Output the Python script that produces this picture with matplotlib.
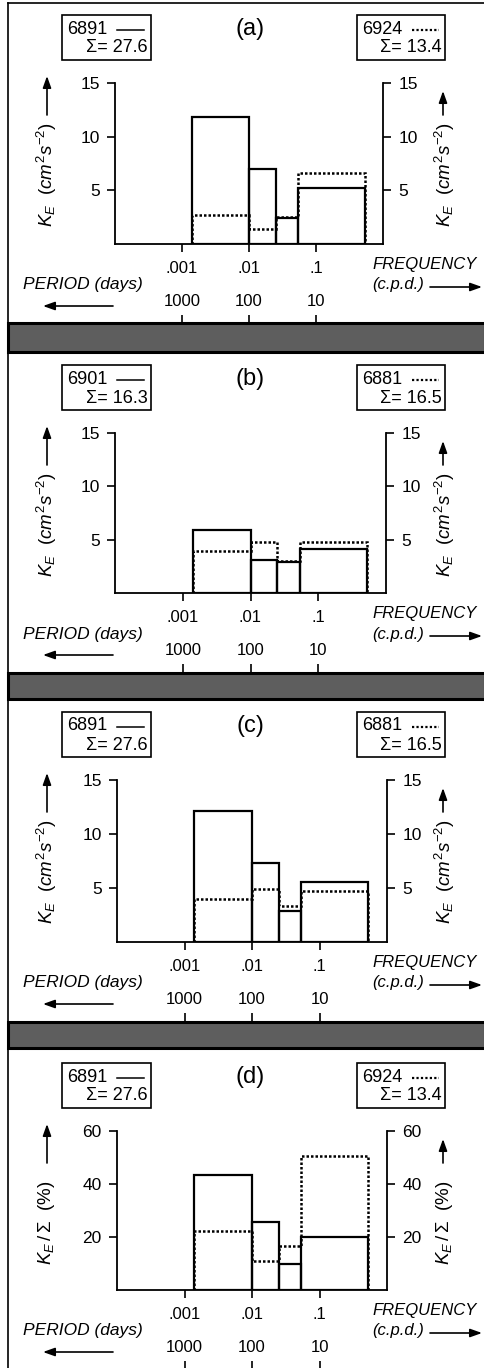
import matplotlib
matplotlib.use('Agg')
import matplotlib.pyplot as plt
from matplotlib.patches import Rectangle, FancyArrowPatch
from matplotlib.lines import Line2D
from matplotlib.ticker import NullLocator

plt.rcParams['font.family'] = ['Liberation Sans', 'DejaVu Sans']
plt.rcParams['mathtext.fontset'] = 'custom'
plt.rcParams['mathtext.it'] = 'Liberation Sans:italic'
plt.rcParams['mathtext.rm'] = 'Liberation Sans'
plt.rcParams['mathtext.sf'] = 'Liberation Sans'

W, H = 485, 1368

# frequency bands (cycles per day): ~700 d, 100 d, 40 d, 19 d, ~2 d periods
bin_edges = [0.0014, 0.01, 0.025, 0.053, 0.53]

panel_letters = ['(a)', '(b)', '(c)', '(d)']
solid_ids = ['6891', '6901', '6891', '6891']
solid_sums = ['27.6', '16.3', '27.6', '27.6']
dotted_ids = ['6924', '6881', '6881', '6924']
dotted_sums = ['13.4', '16.5', '16.5', '13.4']

# kinetic energy per band (cm^2 s^-2), panel (d) in percent of total
ke_a_6891 = [11.8, 7.0, 2.4, 5.2]
ke_a_6924 = [2.7, 1.4, 2.5, 6.6]
ke_b_6901 = [5.9, 3.1, 2.9, 4.1]
ke_b_6881 = [3.9, 4.8, 3.0, 4.8]
ke_c_6891 = [12.1, 7.3, 2.9, 5.6]
ke_c_6881 = [4.0, 4.9, 3.3, 4.7]
pct_d_6891 = [43.5, 25.8, 9.8, 20.1]
pct_d_6924 = [22.4, 11.1, 16.7, 50.6]

solid_series = [ke_a_6891, ke_b_6901, ke_c_6891, pct_d_6891]
dotted_series = [ke_a_6924, ke_b_6881, ke_c_6881, pct_d_6924]

ke_ticks = [5, 10, 15]
pct_ticks = [20, 40, 60]
freq_ticks = [0.001, 0.01, 0.1]
freq_labels = ['.001', '.01', '.1']
period_ticks = [1000, 100, 10]
period_labels = ['1000', '100', '10']

ke_label = r'$K_E\ \ (cm^2 s^{-2})$'
pct_label = r'$K_E\,/\,\Sigma\ \ (\%)$'

# axes boxes in pixels: left, top, right, bottom
rects = [(115, 83, 383, 244), (115, 433, 386, 593),
         (117, 780, 387, 942), (117, 1131, 387, 1290)]
strips = [(323, 352), (673, 699), (1022, 1048)]


def fx(x):
    return x / W


def fy(y):
    return 1 - y / H


fig = plt.figure(figsize=(W / 100, H / 100), dpi=100)

# page frame and the dark scan strips between panels
fig.add_artist(Line2D([fx(8), fx(8)], [fy(3), fy(1368)], color='black', lw=1.2))
fig.add_artist(Line2D([fx(8), fx(485)], [fy(3), fy(3)], color='black', lw=1.2))
for y0, y1 in strips:
    fig.add_artist(Rectangle((fx(8), fy(y1)), fx(485) - fx(8), (y1 - y0) / H,
                             transform=fig.transFigure, facecolor='#5e5e5e',
                             edgecolor='black', lw=2.2))


def arrow(x0, y0, x1, y1):
    fig.add_artist(FancyArrowPatch(
        (fx(x0), fy(y0)), (fx(x1), fy(y1)), transform=fig.transFigure,
        arrowstyle='-|>,head_length=7,head_width=2.5', color='black', lw=1.2,
        mutation_scale=1, shrinkA=0, shrinkB=0))


def legend_box(x0, x1, top, ident, total, dotted):
    y0, y1 = top - 68, top - 23
    fig.add_artist(Rectangle((fx(x0), fy(y1)), fx(x1) - fx(x0), (y1 - y0) / H,
                             transform=fig.transFigure, fill=False,
                             edgecolor='black', lw=1.2))
    fig.text(fx(x0 + 5), fy(y0 + 14), ident, fontsize=13, ha='left', va='center')
    ls = (0, (1, 1)) if dotted else '-'
    fig.add_artist(Line2D([fx(x0 + 55), fx(x0 + 82)], [fy(y0 + 15), fy(y0 + 15)],
                          color='black', lw=1.6 if dotted else 1.1, linestyle=ls))
    fig.text(fx(x1 - 3), fy(y0 + 33), '\u03a3= ' + total, fontsize=13,
             ha='right', va='center')


for i in range(4):
    left, top, right, bottom = rects[i]
    ax = fig.add_axes([fx(left), fy(bottom), fx(right) - fx(left), (bottom - top) / H])
    solid = solid_series[i]
    dotted = dotted_series[i]
    widths = [bin_edges[k + 1] - bin_edges[k] for k in range(len(solid))]
    ax.bar(bin_edges[:-1], solid, width=widths, align='edge', fill=False,
           edgecolor='black', linewidth=1.6, zorder=2)
    ax.stairs(dotted, bin_edges, baseline=0, color='black',
              linestyle=(0, (1, 0.8)), linewidth=1.8, zorder=3)

    ax.set_xscale('log')
    ax.set_xlim(1e-4, 1)
    ax.set_xticks(freq_ticks, labels=freq_labels)
    ax.xaxis.set_minor_locator(NullLocator())
    if i == 3:
        ax.set_ylim(0, 60)
        ax.set_yticks(pct_ticks)
        ylab = pct_label
    else:
        ax.set_ylim(0, 15)
        ax.set_yticks(ke_ticks)
        ylab = ke_label
    ax.spines['top'].set_visible(False)
    for s in ['left', 'right', 'bottom']:
        ax.spines[s].set_linewidth(1.3)
    ax.tick_params(axis='x', direction='out', length=6, width=1.2, pad=6,
                   labelsize=12)
    ax.tick_params(axis='y', direction='out', length=6, width=1.2, pad=5,
                   labelsize=12.5, left=True, right=True, labelleft=True,
                   labelright=True)
    ax.patch.set_alpha(0)

    # period axis below, ticks pointing up to the labels
    h = bottom - top
    sec = ax.secondary_xaxis(-79 / h, functions=(lambda f: 1 / f, lambda p: 1 / p))
    sec.set_alignment('top')
    sec.spines['top'].set_visible(False)
    sec.spines['bottom'].set_visible(False)
    sec.set_xticks(period_ticks, labels=period_labels)
    sec.xaxis.set_minor_locator(NullLocator())
    sec.tick_params(direction='out', length=6, width=1.2, pad=4, labelsize=12)

    # title and legend boxes
    fig.text(fx(250), fy(top - 54), panel_letters[i], fontsize=17,
             ha='center', va='center')
    legend_box(62, 151, top, solid_ids[i], solid_sums[i], False)
    legend_box(357, 445, top, dotted_ids[i], dotted_sums[i], True)

    # y labels with arrows
    fig.text(fx(47), fy(top + 92), ylab, fontsize=13.5, rotation=90,
             ha='center', va='center')
    arrow(47, top + 32, 47, top - 7)
    fig.text(fx(445), fy(top + 92), ylab, fontsize=13.5, rotation=90,
             ha='center', va='center')
    arrow(443, top + 32, 443, top + 8)

    # axis captions
    fig.text(fx(372), fy(bottom + 20), 'FREQUENCY', fontsize=12,
             style='italic', ha='left', va='center')
    fig.text(fx(372), fy(bottom + 41), '(c.p.d.)', fontsize=12,
             style='italic', ha='left', va='center')
    arrow(430, bottom + 43, 482, bottom + 43)
    fig.text(fx(23), fy(bottom + 41), 'PERIOD (days)', fontsize=12.5,
             style='italic', ha='left', va='center')
    arrow(113, bottom + 62, 43, bottom + 62)

fig.savefig('out.png', dpi=100)
